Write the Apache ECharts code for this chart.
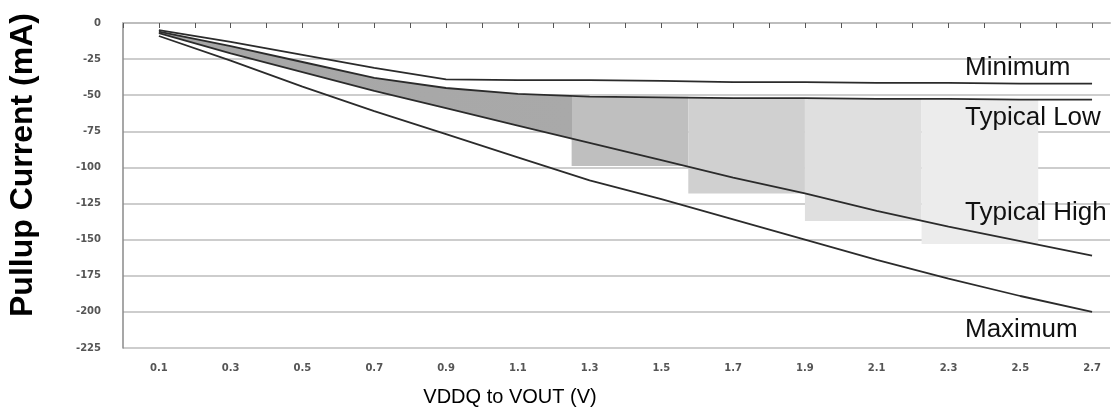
<!DOCTYPE html>
<html>
<head>
<meta charset="utf-8">
<title>Pullup Current</title>
<script src="https://cdn.jsdelivr.net/npm/echarts@6/dist/echarts.min.js"></script>
<style>
  html, body { margin: 0; padding: 0; background: #fff; }
  #chart { width: 1117px; height: 416px; }
</style>
</head>
<body>
<div id="chart"></div>
<script>
// VDDQ to VOUT (V)
const volts = [0.1, 0.3, 0.5, 0.7, 0.9, 1.1, 1.3, 1.5, 1.7, 1.9, 2.1, 2.3, 2.5, 2.7]
// pullup current (mA)
const minimum     = [-5, -13, -22, -31, -39, -39.5, -39.5, -40, -41, -41, -41.5, -41.5, -42, -42]
const typicalLow  = [-6, -16, -27, -38, -45, -49, -51, -51.5, -52, -52, -52.5, -52.5, -53, -53]
const typicalHigh = [-7, -21, -34, -47, -59, -71, -83, -95, -107, -118, -130, -141, -151, -161]
const maximum     = [-9, -26, -44, -61, -77, -93, -109, -122, -136, -150, -164, -177, -189, -200]

const xLabels = ['0.1', '0.3', '0.5', '0.7', '0.9', '1.1', '1.3', '1.5', '1.7', '1.9', '2.1', '2.3', '2.5', '2.7']
const yTicks = [0, -25, -50, -75, -100, -125, -150, -175, -200, -225]

// the dark wedge between the typical curves stops here, then stepped bands follow
const wedgeEnd   = 1.25
const bandFrom   = [1.25, 1.575, 1.9, 2.225]
const bandTo     = [1.575, 1.9, 2.225, 2.55]
const bandTop    = [-51, -52, -52, -53]
const bandBottom = [-99, -118, -137, -153]
const bandColors = ['#bfbfbf', '#d0d0d0', '#dfdfdf', '#ececec']

const pts = (ys) => volts.map((v, i) => [v, ys[i]])
const wedgeFrac = (wedgeEnd - volts[0]) / (volts[volts.length - 1] - volts[0])

const lineSeries = (name, ys) => ({
  name,
  type: 'line',
  data: pts(ys),
  symbol: 'none',
  silent: true,
  z: 5,
  lineStyle: { color: '#2b2b2b', width: 1.8 }
})

// polygon between typical low and typical high, drawn through the axes
function renderWedge (params, api) {
  let top = volts.map((v, i) => api.coord([v, typicalLow[i]]))
  let bottom = volts.map((v, i) => api.coord([v, typicalHigh[i]])).reverse()
  return {
    type: 'polygon',
    shape: { points: top.concat(bottom) },
    style: {
      fill: new echarts.graphic.LinearGradient(0, 0, 1, 0, [
        { offset: 0, color: '#a6a6a6' },
        { offset: wedgeFrac, color: '#a9a9a9' },
        { offset: wedgeFrac, color: 'rgba(255,255,255,0)' },
        { offset: 1, color: 'rgba(255,255,255,0)' }
      ])
    }
  }
}

const rightLabel = (text, y) => ({
  type: 'text',
  x: 965, y,
  z: 10,
  style: {
    text,
    fontFamily: 'Liberation Sans, Arial, sans-serif',
    fontSize: 26,
    fill: '#111',
    verticalAlign: 'middle'
  }
})

let chart = echarts.init(document.getElementById('chart'))
chart.setOption({
  backgroundColor: '#fff',
  animation: false,
  grid: { left: 123, right: 7, top: 23, bottom: 68 },
  xAxis: {
    type: 'value',
    min: 0,
    max: 2.75,
    interval: 0.1,
    axisLine: { lineStyle: { color: '#bdbdbd', width: 2 } },
    axisTick: { show: true, length: 5, lineStyle: { color: '#555' } },
    splitLine: { show: false },
    axisLabel: {
      margin: 15,
      color: '#555',
      fontSize: 10,
      fontWeight: 'bold',
      fontFamily: 'DejaVu Sans',
      showMaxLabel: false,
      formatter: (v) => {
        let s = v.toFixed(1)
        return xLabels.includes(s) ? s : ''
      }
    }
  },
  yAxis: {
    type: 'value',
    min: Math.min(...yTicks),
    max: Math.max(...yTicks),
    interval: yTicks[0] - yTicks[1],
    axisLine: { show: true, lineStyle: { color: '#8a8a8a', width: 1.5 } },
    axisTick: { show: false },
    splitLine: { lineStyle: { color: '#cdcdcd', width: 2 } },
    axisLabel: {
      margin: 22,
      color: '#555',
      fontSize: 10,
      fontWeight: 'bold',
      fontFamily: 'DejaVu Sans'
    }
  },
  series: [
    {
      name: 'bands',
      type: 'line',
      data: [],
      silent: true,
      z: 1,
      markArea: {
        silent: true,
        data: bandFrom.map((x0, i) => [
          { xAxis: x0, yAxis: bandTop[i], itemStyle: { color: bandColors[i], opacity: 1 } },
          { xAxis: bandTo[i], yAxis: bandBottom[i] }
        ])
      }
    },
    {
      name: 'wedge',
      type: 'custom',
      data: [0],
      silent: true,
      z: 2,
      renderItem: renderWedge
    },
    lineSeries('Minimum', minimum),
    lineSeries('Typical Low', typicalLow),
    lineSeries('Typical High', typicalHigh),
    lineSeries('Maximum', maximum)
  ],
  graphic: [
    rightLabel('Minimum', 68),
    rightLabel('Typical Low', 118),
    rightLabel('Typical High', 213),
    rightLabel('Maximum', 330),
    {
      type: 'text',
      x: 23, y: 165,
      rotation: Math.PI / 2,
      style: {
        text: 'Pullup Current (mA)',
        fontFamily: 'Liberation Sans, Arial, sans-serif',
        fontSize: 32,
        fontWeight: 'bold',
        fill: '#000',
        align: 'center',
        verticalAlign: 'middle'
      }
    },
    {
      type: 'text',
      x: 510, y: 397,
      style: {
        text: 'VDDQ to VOUT (V)',
        fontFamily: 'Liberation Sans, Arial, sans-serif',
        fontSize: 20,
        fill: '#000',
        align: 'center',
        verticalAlign: 'middle'
      }
    }
  ]
})
</script>
</body>
</html>
